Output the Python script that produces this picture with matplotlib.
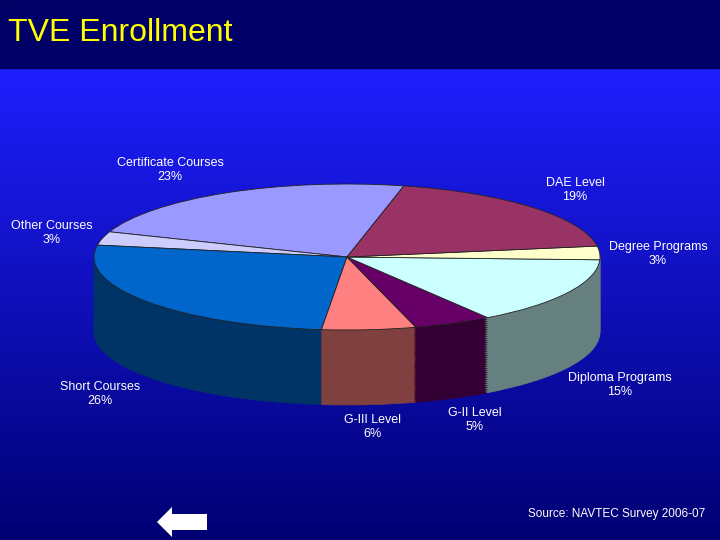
import numpy as np
import matplotlib
matplotlib.use("Agg")
import matplotlib.pyplot as plt
from matplotlib.patches import Polygon

categories = ["Certificate Courses", "Other Courses", "Short Courses", "G-III Level",
              "G-II Level", "Diploma Programs", "Degree Programs", "DAE Level"]
values = [23, 3, 26, 6, 5, 15, 3, 19]
top_colors = ["#9999ff", "#ccccff", "#0066cc", "#ff8080", "#660066", "#ccffff", "#ffffcc", "#993366"]
side_colors = ["#4d4d80", "#666680", "#003366", "#804040", "#330033", "#668080", "#808066", "#4d1a33"]
label_pos = [(170, 170), (52, 233), (100, 394), (372, 427), (475, 420), (620, 385), (658, 254), (575, 190)]

fig = plt.figure(figsize=(7.2, 5.4), dpi=100)
W, H = 720, 540
bg = fig.add_axes([0, 0, 1, 1])
bg.set_xlim(0, W); bg.set_ylim(H, 0); bg.axis("off")
grad = np.linspace(0, 1, 256)[:, None]
c_top = np.array([0.12, 0.12, 1.0]); c_bot = np.array([0.0, 0.0, 0.45])
img = c_top + (c_bot - c_top) * grad[..., None]
bg.imshow(img, extent=[0, W, H, 68], aspect="auto")
bg.add_patch(plt.Rectangle((0, 0), W, 68, color="#000066"))

cx, cy, rx, ry, depth = 347, 257, 253, 73, 75
ax = fig.add_axes([0, 0, 1, 1])
ax.patch.set_alpha(0)
steps = 40
for k in range(steps, 0, -1):
    off = -depth / ry * k / steps
    ax.pie(values, colors=side_colors, startangle=77, counterclock=True,
           center=(0, off), radius=1, wedgeprops=dict(linewidth=0.5, edgecolor=None))
    for w, c in zip(ax.patches[-len(values):], side_colors):
        w.set_edgecolor(c)
ax.pie(values, colors=top_colors, startangle=77, counterclock=True,
       center=(0, 0), radius=1, wedgeprops=dict(linewidth=0.6, edgecolor="#222222"))
ax.set_aspect("auto")
ax.set_xlim(-cx / rx, (W - cx) / rx)
ax.set_ylim(-(H - cy) / ry, cy / ry)
ax.axis("off")

for name, v, (x, y) in zip(categories, values, label_pos):
    bg.text(x, y, f"{name}\n{v}%", color="white", fontsize=9, ha="center", va="center",
            family="Liberation Sans", linespacing=1.3)

bg.text(8, 33, "TVE Enrollment", color="#ffff00", fontsize=23, ha="left", va="center",
        family="Liberation Sans")
bg.text(705, 514, "Source: NAVTEC Survey 2006-07", color="white", fontsize=8.5,
        ha="right", va="center", family="Liberation Sans")
bg.add_patch(Polygon([(157, 522), (172, 507), (172, 514), (207, 514), (207, 530),
                      (172, 530), (172, 537)], closed=True, facecolor="white", edgecolor="none"))
fig.savefig("out.png", dpi=100)
